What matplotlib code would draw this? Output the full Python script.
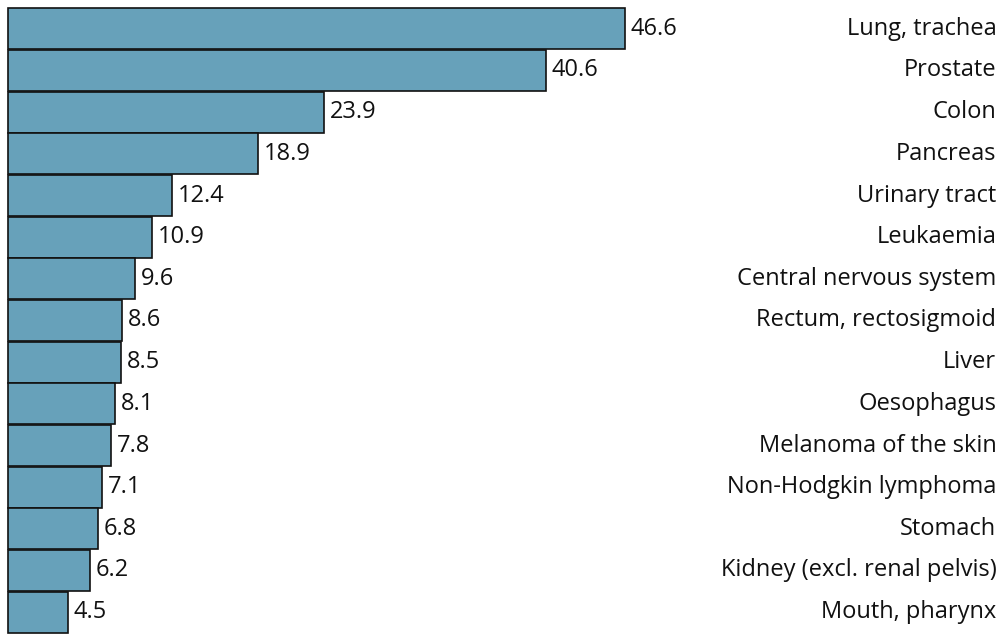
import matplotlib.pyplot as plt

categories = ["Lung, trachea", "Prostate", "Colon", "Pancreas", "Urinary tract",
              "Leukaemia", "Central nervous system", "Rectum, rectosigmoid", "Liver",
              "Oesophagus", "Melanoma of the skin", "Non-Hodgkin lymphoma", "Stomach",
              "Kidney (excl. renal pelvis)", "Mouth, pharynx"]
values = [46.6, 40.6, 23.9, 18.9, 12.4, 10.9, 9.6, 8.6, 8.5, 8.1, 7.8, 7.1, 6.8, 6.2, 4.5]

plt.rcParams['font.family'] = ['Open Sans', 'DejaVu Sans']

fig = plt.figure(figsize=(10.02, 6.35), dpi=100)
ax = fig.add_axes([0, 0, 1, 1])

rows = list(range(len(values)))
ax.barh(rows, values, height=0.98, color="#67a1ba", edgecolor="#111111", linewidth=1.2)

# value next to each bar, category name flush right
for i, v in enumerate(values):
    ax.text(v + 0.45, i, f"{v:.1f}", ha="left", va="center", fontsize=17, color="#111111")
    ax.text(74.65, i, categories[i], ha="right", va="center", fontsize=17, color="#111111")

ax.set_xlim(-0.604, 75.08)
ax.set_ylim(14.548, -0.692)
ax.axis("off")

plt.savefig("out.png", dpi=100)
